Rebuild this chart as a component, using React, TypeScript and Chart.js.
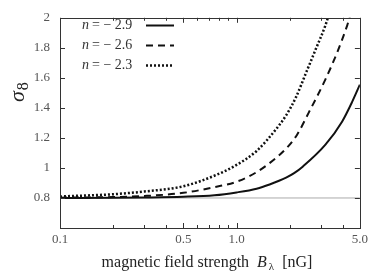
import React, { useEffect, useRef } from "react";
import { Chart, registerables } from "chart.js";
Chart.register(...registerables);

// ---- data ----
const bSolid = [0.1, 0.2, 0.3, 0.5, 0.75, 1.0, 1.3, 1.54, 1.91, 2.12, 2.38, 3.19, 3.97, 4.52, 5.0];
const sigmaSolid = [0.8, 0.801, 0.803, 0.808, 0.818, 0.837, 0.862, 0.89, 0.935, 0.965, 1.01, 1.155, 1.31, 1.44, 1.555];

const bDashed = [0.1, 0.2, 0.3, 0.5, 0.77, 1.0, 1.3, 1.68, 1.95, 2.2, 2.57, 3.19, 3.72, 4.24, 4.45];
const sigmaDashed = [0.802, 0.806, 0.813, 0.834, 0.875, 0.908, 0.972, 1.068, 1.14, 1.22, 1.37, 1.59, 1.77, 1.95, 2.03];

const bDotted = [0.1, 0.2, 0.3, 0.5, 0.77, 1.0, 1.3, 1.68, 1.91, 2.17, 2.47, 2.81, 3.19, 3.35];
const sigmaDotted = [0.81, 0.825, 0.843, 0.878, 0.954, 1.02, 1.113, 1.26, 1.35, 1.47, 1.63, 1.79, 1.95, 2.03];

const nLabels = ["\u2212 2.9", "\u2212 2.6", "\u2212 2.3"];
const baselineSigma = 0.8;

const xTicks = [0.1, 0.5, 1.0, 5.0];
const xTickLabels = ["0.1", "0.5", "1.0", "5.0"];
const xMinorTicks = [0.2, 0.3, 0.4, 0.6, 0.7, 0.8, 0.9, 2, 3, 4];
const yTicks = [0.8, 1, 1.2, 1.4, 1.6, 1.8, 2];
const yTickLabels = ["0.8", "1", "1.2", "1.4", "1.6", "1.8", "2"];

const SERIF = "'Liberation Serif', 'DejaVu Serif', serif";

const decor = {
  id: "decor",
  afterDraw(chart: any) {
    const ctx = chart.ctx as CanvasRenderingContext2D;
    const a = chart.chartArea;
    const xs = chart.scales.x;
    const ys = chart.scales.y;
    ctx.save();
    // frame
    ctx.strokeStyle = "#333";
    ctx.lineWidth = 1;
    ctx.strokeRect(Math.round(a.left) + 0.5, Math.round(a.top) + 0.5, Math.round(a.right - a.left), Math.round(a.bottom - a.top));
    // x ticks (inside, top and bottom)
    const drawX = (v: number, len: number) => {
      const px = Math.round(xs.getPixelForValue(v)) + 0.5;
      ctx.beginPath();
      ctx.moveTo(px, a.bottom);
      ctx.lineTo(px, a.bottom - len);
      ctx.moveTo(px, a.top);
      ctx.lineTo(px, a.top + len);
      ctx.stroke();
    };
    xTicks.forEach((v) => drawX(v, 5));
    xMinorTicks.forEach((v) => drawX(v, 3));
    yTicks.forEach((v) => {
      const py = Math.round(ys.getPixelForValue(v)) + 0.5;
      ctx.beginPath();
      ctx.moveTo(a.left, py);
      ctx.lineTo(a.left + 5, py);
      ctx.moveTo(a.right, py);
      ctx.lineTo(a.right - 5, py);
      ctx.stroke();
    });
    // legend
    const ds = chart.data.datasets;
    ctx.textBaseline = "middle";
    for (let i = 0; i < 3; i++) {
      const y = 25 + i * 20;
      ctx.fillStyle = "#333";
      ctx.font = `italic 14px ${SERIF}`;
      ctx.textAlign = "left";
      ctx.fillText("n", 82, y);
      ctx.font = `14px ${SERIF}`;
      ctx.fillText("= " + nLabels[i], 92, y);
      const d = ds[i];
      ctx.strokeStyle = d.borderColor;
      ctx.lineWidth = d.borderWidth;
      ctx.setLineDash(d.borderDash || []);
      ctx.beginPath();
      ctx.moveTo(146, y + 0.5);
      ctx.lineTo(174, y + 0.5);
      ctx.stroke();
      ctx.setLineDash([]);
    }
    // x title
    ctx.fillStyle = "#222";
    ctx.textAlign = "left";
    ctx.textBaseline = "alphabetic";
    const t1 = "magnetic field strength  ";
    ctx.font = `16px ${SERIF}`;
    const w1 = ctx.measureText(t1).width;
    ctx.font = `italic 16px ${SERIF}`;
    const wB = ctx.measureText("B").width;
    ctx.font = `11px ${SERIF}`;
    const wL = ctx.measureText("\u03bb").width;
    const t3 = "  [nG]";
    ctx.font = `16px ${SERIF}`;
    const w3 = ctx.measureText(t3).width;
    const total = w1 + wB + 2 + wL + w3;
    let x0 = 207 - total / 2;
    const base = 267;
    ctx.font = `16px ${SERIF}`;
    ctx.fillText(t1, x0, base);
    x0 += w1;
    ctx.font = `italic 16px ${SERIF}`;
    ctx.fillText("B", x0, base);
    x0 += wB + 2;
    ctx.font = `11px ${SERIF}`;
    ctx.fillText("\u03bb", x0, base + 3);
    x0 += wL;
    ctx.font = `16px ${SERIF}`;
    ctx.fillText(t3, x0, base);
    // y title
    ctx.save();
    ctx.translate(24, 102);
    ctx.rotate(-Math.PI / 2);
    ctx.font = `italic 22px ${SERIF}`;
    ctx.fillText("\u03c3", 0, 0);
    const ws = ctx.measureText("\u03c3").width;
    ctx.font = `16px ${SERIF}`;
    ctx.fillText("8", ws + 1, 4);
    ctx.restore();
    ctx.restore();
  },
};

export default function App() {
  const ref = useRef<HTMLCanvasElement | null>(null);
  useEffect(() => {
    if (!ref.current) return;
    const mk = (bs: number[], vs: number[]) => bs.map((b, i) => ({ x: b, y: vs[i] }));
    const chart = new Chart(ref.current, {
      type: "line",
      data: {
        datasets: [
          {
            label: "n = " + nLabels[0],
            data: mk(bSolid, sigmaSolid),
            borderColor: "#111",
            borderWidth: 2,
            pointRadius: 0,
            cubicInterpolationMode: "monotone",
          },
          {
            label: "n = " + nLabels[1],
            data: mk(bDashed, sigmaDashed),
            borderColor: "#111",
            borderWidth: 2,
            borderDash: [7, 5],
            pointRadius: 0,
            cubicInterpolationMode: "monotone",
          },
          {
            label: "n = " + nLabels[2],
            data: mk(bDotted, sigmaDotted),
            borderColor: "#111",
            borderWidth: 2.5,
            borderDash: [2, 2],
            pointRadius: 0,
            cubicInterpolationMode: "monotone",
          },
          {
            label: "baseline",
            data: [
              { x: xTicks[0], y: baselineSigma },
              { x: xTicks[xTicks.length - 1], y: baselineSigma },
            ],
            borderColor: "#aaa",
            borderWidth: 1,
            pointRadius: 0,
          },
        ],
      } as any,
      options: {
        animation: false,
        responsive: false,
        layout: { padding: { top: 8, right: 7, left: 0, bottom: 0 } },
        plugins: { legend: { display: false }, tooltip: { enabled: false } },
        scales: {
          x: {
            type: "logarithmic",
            min: 0.1,
            max: 5,
            grid: { display: false, drawTicks: false },
            border: { display: false },
            afterBuildTicks: (s: any) => {
              s.ticks = xTicks.map((v) => ({ value: v }));
            },
            afterFit: (s: any) => {
              s.height = 45;
            },
            ticks: {
              autoSkip: false,
              maxRotation: 0,
              padding: 4,
              color: "#555",
              font: { family: SERIF, size: 13 },
              callback: (v: any) => {
                const i = xTicks.indexOf(Number(v));
                return i >= 0 ? xTickLabels[i] : "";
              },
            },
          },
          y: {
            type: "linear",
            min: 0.6,
            max: 2,
            grid: { display: false, drawTicks: false },
            border: { display: false },
            afterBuildTicks: (s: any) => {
              s.ticks = yTicks.map((v) => ({ value: v }));
            },
            afterFit: (s: any) => {
              s.width = 60;
            },
            ticks: {
              padding: 10,
              color: "#555",
              font: { family: SERIF, size: 13 },
              callback: (v: any) => {
                const i = yTicks.findIndex((t) => Math.abs(t - Number(v)) < 1e-6);
                return i >= 0 ? yTickLabels[i] : "";
              },
            },
          },
        },
      } as any,
      plugins: [decor],
    });
    return () => chart.destroy();
  }, []);
  return (
    <div style={{ position: "absolute", left: 0, top: 0, width: 372, height: 273, background: "#fff" }}>
      <canvas ref={ref} width={372} height={273} style={{ width: 372, height: 273 }} />
    </div>
  );
}
